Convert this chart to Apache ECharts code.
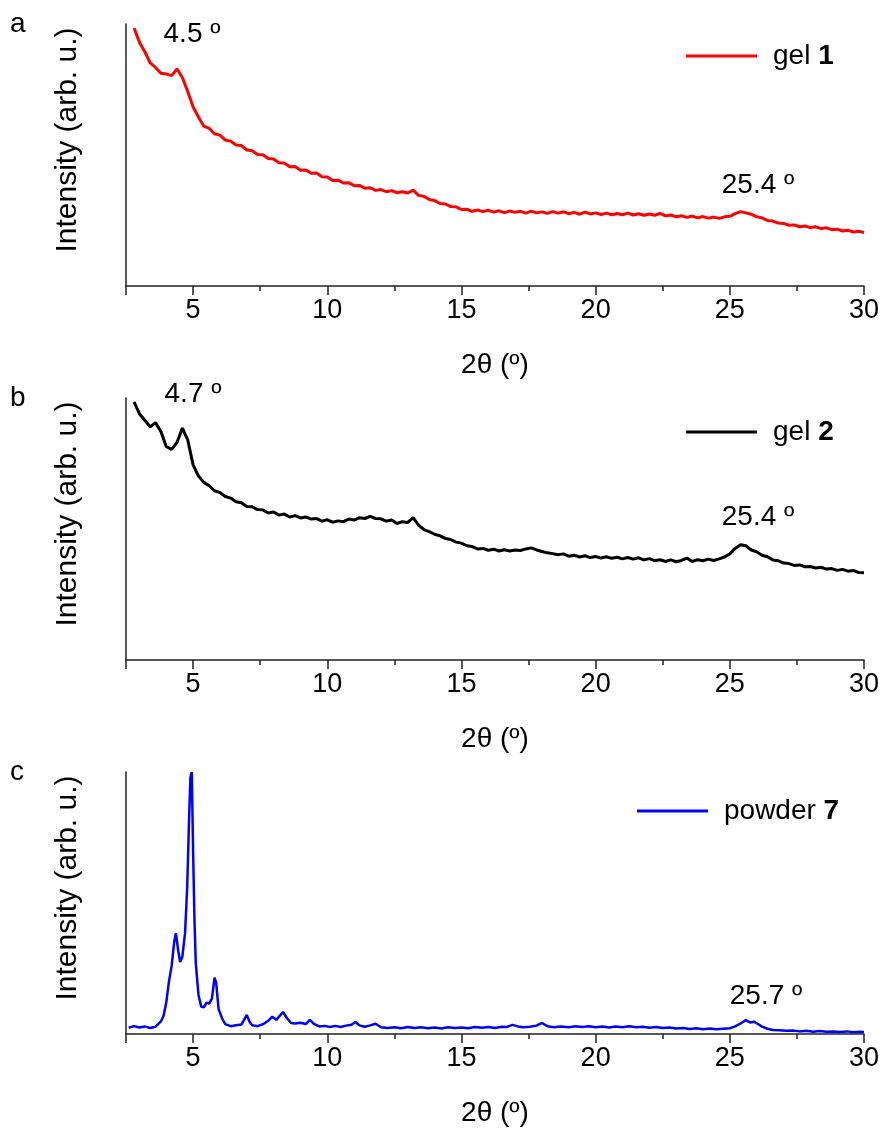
<!DOCTYPE html>
<html>
<head>
<meta charset="utf-8">
<script src="https://cdn.jsdelivr.net/npm/echarts@6/dist/echarts.min.js"></script>
<style>
  html, body { margin: 0; padding: 0; background: #fff; }
  #chart { width: 885px; height: 1128px; }
</style>
</head>
<body>
<div id="chart"></div>
<script>
// 2theta grid (deg) shared by the two gel scans
const angleAB = [
  2.8, 3.0, 3.2, 3.4, 3.6, 3.8, 4.0, 4.2, 4.4, 4.6,
  4.8, 5.0, 5.2, 5.4, 5.6, 5.8, 6.0, 6.2, 6.4, 6.6,
  6.8, 7.0, 7.2, 7.4, 7.6, 7.8, 8.0, 8.2, 8.4, 8.6,
  8.8, 9.0, 9.2, 9.4, 9.6, 9.8, 10.0, 10.2, 10.4, 10.6,
  10.8, 11.0, 11.2, 11.4, 11.6, 11.8, 12.0, 12.2, 12.4, 12.6,
  12.8, 13.0, 13.2, 13.4, 13.6, 13.8, 14.0, 14.2, 14.4, 14.6,
  14.8, 15.0, 15.2, 15.4, 15.6, 15.8, 16.0, 16.2, 16.4, 16.6,
  16.8, 17.0, 17.2, 17.4, 17.6, 17.8, 18.0, 18.2, 18.4, 18.6,
  18.8, 19.0, 19.2, 19.4, 19.6, 19.8, 20.0, 20.2, 20.4, 20.6,
  20.8, 21.0, 21.2, 21.4, 21.6, 21.8, 22.0, 22.2, 22.4, 22.6,
  22.8, 23.0, 23.2, 23.4, 23.6, 23.8, 24.0, 24.2, 24.4, 24.6,
  24.8, 25.0, 25.2, 25.4, 25.6, 25.8, 26.0, 26.2, 26.4, 26.6,
  26.8, 27.0, 27.2, 27.4, 27.6, 27.8, 28.0, 28.2, 28.4, 28.6,
  28.8, 29.0, 29.2, 29.4, 29.6, 29.8, 30.0
]
// gel 1 intensity (arb. u.)
const gel1 = [
  98.5, 93.0, 89.4, 85.2, 83.4, 81.2, 80.9, 80.3, 82.8, 79.6,
  74.2, 68.3, 64.5, 61.0, 60.2, 58.1, 57.6, 55.7, 55.3, 53.8,
  53.6, 51.9, 51.6, 50.2, 50.1, 48.7, 48.5, 47.0, 46.9, 45.5,
  45.6, 44.2, 44.3, 43.0, 43.1, 41.7, 41.6, 40.3, 40.4, 39.3,
  39.4, 38.3, 38.4, 37.3, 37.5, 36.5, 36.8, 36.0, 36.4, 35.6,
  36.0, 35.5, 36.6, 34.6, 34.2, 33.0, 32.6, 31.5, 31.3, 30.3,
  30.2, 29.2, 29.3, 28.5, 29.0, 28.4, 28.9, 28.2, 28.7, 28.0,
  28.6, 28.1, 28.5, 27.8, 28.6, 27.9, 28.3, 27.7, 28.4, 27.8,
  28.3, 27.6, 28.1, 27.4, 28.2, 27.5, 27.9, 27.3, 27.8, 27.2,
  27.7, 27.2, 27.8, 27.1, 27.6, 27.0, 27.5, 27.0, 27.7, 26.8,
  27.1, 26.4, 26.8, 26.2, 26.7, 26.0, 26.5, 25.9, 26.3, 25.8,
  26.4, 26.6, 27.6, 28.4, 27.9, 27.4, 26.4, 26.0, 25.0, 24.8,
  24.0, 23.9, 23.2, 23.3, 22.6, 22.9, 22.3, 22.6, 21.9, 22.2,
  21.5, 21.7, 21.0, 21.3, 20.6, 20.9, 20.4
]
// gel 2 intensity (arb. u.)
const gel2 = [
  98.5, 94.0, 91.5, 89.0, 90.6, 87.2, 81.5, 80.4, 83.0, 88.5,
  84.0, 74.5, 70.2, 67.8, 66.5, 64.6, 63.9, 62.4, 61.8, 60.4,
  60.0, 58.6, 58.5, 57.4, 57.3, 56.1, 56.5, 55.3, 55.7, 54.6,
  55.1, 54.2, 54.6, 53.8, 54.0, 53.0, 53.5, 52.6, 53.1, 52.8,
  53.8, 53.4, 54.3, 54.0, 54.8, 54.0, 53.9, 53.0, 53.4, 52.1,
  52.8, 52.5, 54.3, 51.5, 49.8, 49.0, 48.0, 47.4, 46.4, 46.0,
  45.0, 44.6, 43.6, 43.3, 42.4, 42.6, 41.9, 42.3, 41.6, 42.1,
  41.6, 42.0, 41.8, 42.4, 42.8, 42.0, 41.4, 40.9, 40.6, 40.2,
  40.5, 39.6, 40.0, 39.3, 39.8, 39.1, 39.5, 38.9, 39.4, 38.8,
  39.2, 38.6, 39.1, 38.5, 39.0, 38.2, 38.7, 37.9, 38.3, 37.6,
  38.2, 37.5, 38.0, 38.9, 37.6, 38.3, 37.9, 38.5, 38.0, 38.6,
  39.3, 40.5, 42.6, 44.0, 43.6, 42.0, 41.3, 40.0, 39.4, 38.2,
  37.9, 37.0, 36.8, 36.1, 36.3, 35.6, 35.7, 35.1, 35.4, 34.7,
  34.9, 34.2, 34.6, 33.9, 34.2, 33.4, 33.3
]
// powder 7 scan, finer sampling around the sharp peaks
const angleC = [
  2.6, 2.8, 3.0, 3.2, 3.4, 3.6, 3.8, 3.9, 4.0, 4.1,
  4.2, 4.3, 4.36, 4.45, 4.52, 4.6, 4.7, 4.78, 4.85, 4.9,
  4.95, 5.0, 5.05, 5.1, 5.2, 5.3, 5.4, 5.5, 5.6, 5.7,
  5.8, 5.86, 5.95, 6.1, 6.2, 6.4, 6.6, 6.8, 6.9, 7.0,
  7.1, 7.2, 7.4, 7.6, 7.8, 7.95, 8.1, 8.25, 8.35, 8.5,
  8.65, 8.8, 9.0, 9.2, 9.35, 9.5, 9.7, 9.9, 10.1, 10.3,
  10.5, 10.7, 10.9, 11.05, 11.2, 11.4, 11.6, 11.8, 12.0, 12.25,
  12.5, 12.75, 13.0, 13.25, 13.5, 13.75, 14.0, 14.25, 14.5, 14.75,
  15.0, 15.25, 15.5, 15.75, 16.0, 16.25, 16.5, 16.7, 16.9, 17.1,
  17.3, 17.55, 17.8, 18.0, 18.2, 18.45, 18.7, 19.0, 19.25, 19.5,
  19.75, 20.0, 20.25, 20.5, 20.75, 21.0, 21.25, 21.5, 21.75, 22.0,
  22.25, 22.5, 22.75, 23.0, 23.25, 23.5, 23.75, 24.0, 24.25, 24.5,
  24.75, 25.0, 25.2, 25.4, 25.6, 25.75, 25.9, 26.05, 26.2, 26.4,
  26.6, 26.85, 27.1, 27.35, 27.6, 27.85, 28.1, 28.35, 28.6, 28.85,
  29.1, 29.35, 29.6, 29.85, 30.0
]
const powder7 = [
  2.4, 3.0, 2.5, 2.9, 2.3, 2.8, 4.8, 7.0, 12.0, 20.0,
  26.0, 35.5, 38.5, 31.5, 27.5, 29.5, 38.5, 56, 82, 98,
  100, 70, 44, 27, 15, 10.5, 10.2, 12.0, 11.6, 13.5,
  21.5, 19.5, 9.5, 5.5, 3.8, 3.0, 3.3, 3.6, 5.4, 7.3,
  4.8, 3.3, 3.0, 3.7, 5.0, 6.6, 5.4, 7.2, 8.4, 6.0,
  4.2, 4.0, 4.3, 3.8, 5.4, 3.9, 2.9, 3.1, 2.7, 3.1,
  2.7, 3.2, 3.5, 4.6, 3.3, 2.8, 3.3, 3.9, 2.6, 2.3,
  2.6, 2.2, 2.7, 2.3, 2.6, 2.2, 2.5, 2.1, 2.6, 2.3,
  2.5, 2.2, 2.7, 2.4, 2.7, 2.3, 2.8, 2.7, 3.5, 2.9,
  2.6, 2.8, 3.2, 4.2, 3.0, 2.6, 2.9, 2.6, 3.0, 2.7,
  3.0, 2.6, 2.9, 2.5, 2.9, 2.6, 3.0, 2.6, 2.8, 2.4,
  2.7, 2.3, 2.5, 2.1, 2.3, 1.9, 2.2, 1.8, 2.1, 1.8,
  2.0, 2.2, 2.9, 4.0, 5.3, 4.4, 4.7, 3.8, 2.8, 2.0,
  1.5, 1.4, 1.2, 1.3, 1.0, 1.2, 0.9, 1.1, 0.9, 1.0,
  0.8, 1.0, 0.7, 0.9, 0.8
]

const panelNames = ['gel 1', 'gel 2', 'powder 7']
const panelLetters = ['a', 'b', 'c']
const peakLabels = [['4.5 º', '25.4 º'], ['4.7 º', '25.4 º'], ['25.7 º']]
const lineColors = ['#ff0000', '#000000', '#0000ff']

const FONT = '"Liberation Sans", Arial, sans-serif'
const gridTops = [24, 398, 772]
const gridH = 262

const chart = echarts.init(document.getElementById('chart'))

function pairs(xs, ys) {
  return xs.map((x, i) => [x, ys[i]])
}

const seriesData = [pairs(angleAB, gel1), pairs(angleAB, gel2), pairs(angleC, powder7)]

function note(text, x, y) {
  return {
    type: 'text', x: x, y: y,
    style: {text: text, font: '28px ' + FONT, fill: '#000', align: 'center', verticalAlign: 'middle'}
  }
}

const option = {
  animation: false,
  backgroundColor: '#fff',
  grid: gridTops.map(t => ({left: 126, right: 21, top: t, height: gridH})),
  xAxis: gridTops.map((t, i) => ({
    type: 'value',
    gridIndex: i,
    min: 2.5,
    max: 30,
    name: '2θ (º)',
    nameLocation: 'middle',
    nameGap: 65,
    nameTextStyle: {fontFamily: FONT, fontSize: 28, color: '#000'},
    axisLine: {show: true, onZero: false, lineStyle: {color: '#222', width: 1.5}},
    axisTick: {show: true, length: 9, lineStyle: {color: '#222', width: 1.5}},
    minorTick: {show: true, splitNumber: 2, length: 5, lineStyle: {color: '#222', width: 1.5}},
    splitLine: {show: false},
    minorSplitLine: {show: false},
    axisLabel: {
      fontFamily: FONT,
      fontSize: 27,
      color: '#000',
      margin: 11,
      formatter: v => (v % 5 === 0 ? String(v) : '')
    }
  })),
  yAxis: gridTops.map((t, i) => ({
    type: 'value',
    gridIndex: i,
    min: 0,
    max: 100,
    axisLine: {show: true, lineStyle: {color: '#222', width: 1.5}},
    axisTick: {show: false},
    axisLabel: {show: false},
    splitLine: {show: false}
  })),
  legend: [
    {left: 686, top: 42},
    {left: 686, top: 418},
    {left: 637, top: 797}
  ].map((pos, i) => ({
    left: pos.left,
    top: pos.top,
    padding: 0,
    icon: 'rect',
    itemWidth: 71,
    itemHeight: 3,
    data: [panelNames[i]],
    selectedMode: false,
    formatter: name => {
      const p = name.split(' ')
      return '{n|' + p[0] + ' }{b|' + p[1] + '}'
    },
    textStyle: {
      rich: {
        n: {fontFamily: FONT, fontSize: 28, color: '#000', padding: [0, 0, 0, 11]},
        b: {fontFamily: FONT, fontSize: 28, color: '#000', fontWeight: 'bold'}
      }
    }
  })),
  series: seriesData.map((d, i) => ({
    name: panelNames[i],
    type: 'line',
    xAxisIndex: i,
    yAxisIndex: i,
    data: d,
    showSymbol: false,
    symbol: 'none',
    lineStyle: {color: lineColors[i], width: i === 2 ? 2.5 : 3},
    itemStyle: {color: lineColors[i]}
  })),
  graphic: [
    // panel letters
    ...panelLetters.map((l, i) => ({
      type: 'text', left: 10, top: gridTops[i] - 14,
      style: {text: l, font: '28px ' + FONT, fill: '#000'}
    })),
    // y axis titles
    ...gridTops.map(t => ({
      type: 'text',
      x: 68,
      y: t + 116,
      rotation: Math.PI / 2,
      style: {
        text: 'Intensity (arb. u.)',
        font: '30px ' + FONT,
        fill: '#000',
        align: 'center',
        verticalAlign: 'middle'
      }
    })),
    // peak annotations
    note(peakLabels[0][0], 192, 34),
    note(peakLabels[0][1], 758, 185),
    note(peakLabels[1][0], 193, 394),
    note(peakLabels[1][1], 758, 517),
    note(peakLabels[2][0], 766, 996)
  ]
}

chart.setOption(option)
</script>
</body>
</html>
